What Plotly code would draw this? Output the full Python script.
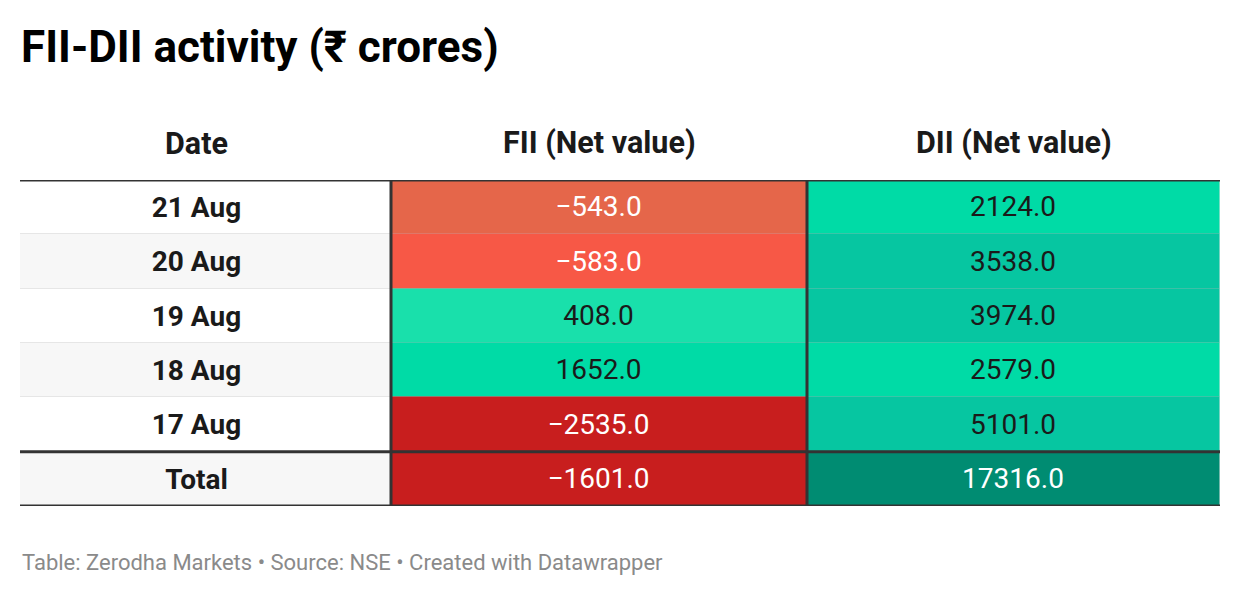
import plotly.graph_objects as go

dates = ["21 Aug", "20 Aug", "19 Aug", "18 Aug", "17 Aug", "Total"]
fii_net = [-543.0, -583.0, 408.0, 1652.0, -2535.0, -1601.0]
dii_net = [2124.0, 3538.0, 3974.0, 2579.0, 5101.0, 17316.0]
headers = ["Date", "FII (Net value)", "DII (Net value)"]

# datawrapper colour buckets, one per cell
fii_fill = ["#E5664A", "#F75846", "#19E0AB", "#00DBA6", "#C81E1E", "#C81E1E"]
dii_fill = ["#00DBA6", "#06C6A1", "#06C6A1", "#00DBA6", "#06C6A1", "#008C72"]
date_fill = ["#FFFFFF", "#F7F7F7", "#FFFFFF", "#F7F7F7", "#FFFFFF", "#F7F7F7"]

DARK_FILLS = {"#E5664A", "#F75846", "#C81E1E", "#008C72"}


def fmt(v):
    s = f"{abs(v):.1f}"
    return ("\u2212" + s) if v < 0 else s


def txt_colors(fills):
    return ["#FFFFFF" if c in DARK_FILLS else "#1A1A1A" for c in fills]


# page has an 8px body margin, so figure coords = page coords - 8
W, H = 1224, 580
M_T, M_B, M_L, M_R = 172, 82, 12, 12
col_w = [371, 416, 413]
col_x0 = [sum(col_w[:i]) for i in range(len(col_w))]
# datawrapper pads the first column on the right, its text sits left of centre
DATE_PAD = 18
text_x = [(col_w[0] - DATE_PAD) / 2, col_x0[1] + col_w[1] / 2, col_x0[2] + col_w[2] / 2]
FONT = "Roboto"
n = len(dates)

fig = go.Figure()

# date column: fill, then a transparent (narrower) bar that carries the labels
fig.add_trace(go.Bar(
    y=dates, x=[col_w[0]] * n, base=[0] * n,
    orientation="h", width=1,
    marker=dict(color=date_fill, line=dict(color="#E6E6E6", width=1)),
    hoverinfo="skip", showlegend=False,
))
fig.add_trace(go.Bar(
    y=dates, x=[col_w[0] - DATE_PAD] * n, base=[0] * n,
    orientation="h", width=1,
    marker=dict(color="rgba(0,0,0,0)", line=dict(width=0)),
    text=[f"<b>{d}</b>" for d in dates],
    textposition="inside", insidetextanchor="middle", textangle=0,
    textfont=dict(family=FONT, size=28, color="#1A1A1A"),
    hoverinfo="skip", showlegend=False,
))

# value columns
for i, (vals, fills) in enumerate([(fii_net, fii_fill), (dii_net, dii_fill)], start=1):
    fig.add_trace(go.Bar(
        y=dates,
        x=[col_w[i]] * n,
        base=[col_x0[i]] * n,
        orientation="h",
        width=1,
        marker=dict(color=fills, line=dict(color="rgba(0,0,0,0.06)", width=1)),
        text=[fmt(v) for v in vals],
        textposition="inside",
        insidetextanchor="middle",
        textangle=0,
        textfont=dict(family=FONT, size=28, color=txt_colors(fills)),
        hoverinfo="skip",
        showlegend=False,
    ))

total_w = sum(col_w)
dark = dict(color="#333333", width=3)
shapes = []
for yy in (-0.5, n - 1.5, n - 0.5):
    shapes.append(dict(type="line", xref="x", yref="y", x0=0, x1=total_w,
                       y0=yy, y1=yy, line=dark, layer="above"))
for xx in col_x0[1:]:
    shapes.append(dict(type="line", xref="x", yref="y", x0=xx, x1=xx,
                       y0=-0.5, y1=n - 0.5, line=dark, layer="above"))

annotations = [
    dict(text=f"<b>{h}</b>", x=text_x[i], xref="x", y=1, yref="paper",
         yanchor="middle", yshift=37, showarrow=False,
         font=dict(family=FONT, size=30.5, color="#1A1A1A"))
    for i, h in enumerate(headers)
]
annotations += [
    dict(text="<b>FII-DII activity (₹ crores)</b>", x=0, xref="paper", xanchor="left",
         y=1, yref="paper", yanchor="middle", yshift=133, xshift=-1, showarrow=False,
         font=dict(family=FONT, size=44, color="#000000")),
    dict(text="Table: Zerodha Markets • Source: NSE • Created with Datawrapper",
         x=0, xref="paper", xanchor="left", y=0, yref="paper", yanchor="middle",
         yshift=-56, showarrow=False,
         font=dict(family=FONT, size=22, color="#8A8A8A")),
]

fig.update_layout(
    width=W, height=H,
    margin=dict(t=M_T, b=M_B, l=M_L, r=M_R),
    paper_bgcolor="white", plot_bgcolor="white",
    barmode="overlay", bargap=0,
    xaxis=dict(range=[0, total_w], visible=False, fixedrange=True),
    yaxis=dict(type="category", categoryarray=dates, range=[n - 0.5, -0.5],
               visible=False, fixedrange=True),
    shapes=shapes,
    annotations=annotations,
)

fig.write_html("out.html")
